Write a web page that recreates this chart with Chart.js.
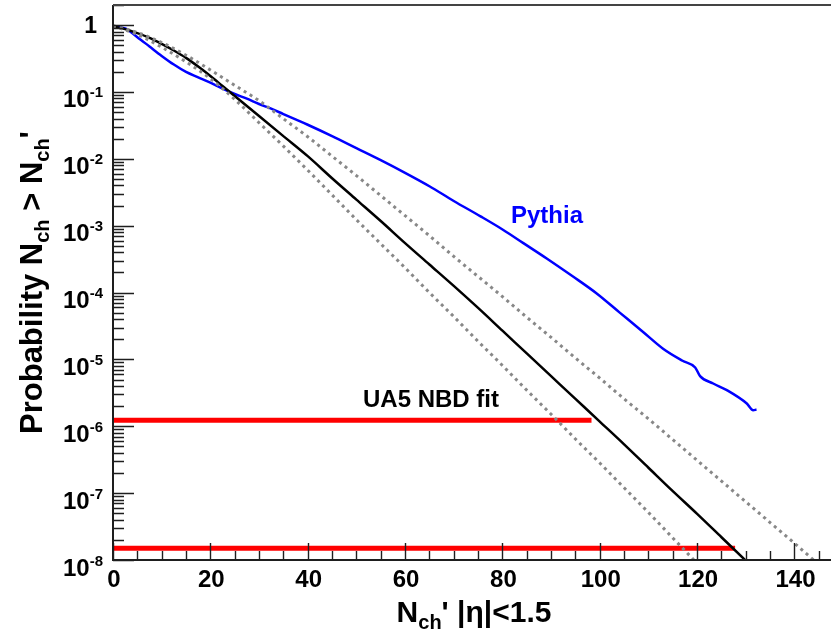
<!DOCTYPE html>
<html>
<head>
<meta charset="utf-8">
<script src="https://cdn.jsdelivr.net/npm/chart.js@4"></script>
<style>
html,body{margin:0;padding:0;background:#ffffff;}
#wrap{width:831px;height:636px;position:relative;}
</style>
</head>
<body>
<div id="wrap"><canvas id="c" width="831" height="636"></canvas></div>
<script>
// ---------------- data ----------------
// x tick labels
const xTickValues = [0, 20, 40, 60, 80, 100, 120, 140];
const xTickLabels = ['0', '20', '40', '60', '80', '100', '120', '140'];
// y tick labels (log axis): base and exponent
const yTickValues = [1, 1e-1, 1e-2, 1e-3, 1e-4, 1e-5, 1e-6, 1e-7, 1e-8];
const yTickBase   = ['1', '10', '10', '10', '10', '10', '10', '10', '10'];
const yTickExp    = ['', '-1', '-2', '-3', '-4', '-5', '-6', '-7', '-8'];

// UA5 NBD fit (black) : N_ch' and log10(probability)
const ua5N    = [0, 2.5, 5, 7.5, 10, 12.5, 15, 17.5, 20, 22.5, 25, 30, 35, 40, 45, 50, 55, 60, 65, 70, 75, 80, 85, 90, 95, 100, 105, 110, 115, 120, 125, 130];
const ua5Log  = [-0.02, -0.06, -0.12, -0.19, -0.28, -0.38, -0.49, -0.62, -0.76, -0.91, -1.06, -1.36, -1.66, -1.96, -2.29, -2.61, -2.93, -3.26, -3.58, -3.90, -4.23, -4.57, -4.91, -5.25, -5.59, -5.93, -6.27, -6.62, -6.97, -7.31, -7.66, -8.01];

// UA5 band, upper (grey dotted)
const upperN   = [0, 5, 10, 15, 20, 25, 30, 35, 40, 45, 50, 55, 60, 65, 70, 75, 80, 85, 90, 95, 100, 105, 110, 115, 120, 125, 130, 135, 140, 145];
const upperLog = [-0.01, -0.11, -0.26, -0.45, -0.67, -0.90, -1.13, -1.40, -1.67, -1.96, -2.25, -2.55, -2.85, -3.15, -3.46, -3.76, -4.06, -4.37, -4.67, -4.98, -5.28, -5.59, -5.89, -6.20, -6.51, -6.82, -7.13, -7.44, -7.75, -8.07];

// UA5 band, lower (grey dotted)
const lowerN   = [0, 5, 10, 15, 20, 25, 30, 35, 40, 45, 50, 55, 60, 65, 70, 75, 80, 85, 90, 95, 100, 105, 110, 115, 120];
const lowerLog = [-0.01, -0.14, -0.33, -0.55, -0.80, -1.11, -1.46, -1.81, -2.17, -2.54, -2.91, -3.27, -3.63, -4.00, -4.36, -4.73, -5.09, -5.46, -5.82, -6.19, -6.55, -6.92, -7.29, -7.67, -8.05];

// Pythia (blue)
const pythiaN   = [0, 2.5, 5, 7.5, 10, 12.5, 15, 17.5, 20, 22.5, 25, 27.5, 30, 32.5, 35, 37.5, 40, 45, 50, 55, 60, 65, 70, 75.5, 80.1, 84.3, 89.1, 94.5, 99.3, 104.1, 108.9, 113.0, 117.0, 119.6, 120.6, 123.3, 126.1, 130.2, 131.5, 132.2];
const pythiaLog = [-0.02, -0.05, -0.18, -0.32, -0.46, -0.59, -0.70, -0.78, -0.86, -0.95, -1.03, -1.10, -1.18, -1.25, -1.33, -1.41, -1.49, -1.66, -1.84, -2.02, -2.21, -2.41, -2.63, -2.86, -3.06, -3.26, -3.49, -3.76, -4.01, -4.30, -4.59, -4.84, -5.02, -5.12, -5.25, -5.36, -5.46, -5.66, -5.76, -5.75];

// red horizontal limits
const redUpperN = [0, 98.3];
const redUpperP = [1.23e-6, 1.23e-6];
const redLowerN = [0, 127.8];
const redLowerP = [1.5e-8, 1.5e-8];

// text labels
const pythiaLabel = 'Pythia';
const ua5Label = 'UA5 NBD fit';

// axis ranges
const xMin = 0, xMax = 147.5;
const yMin = 1e-8, yMax = 2;

// ---------------- build ----------------
const fromLog = (xs, ls) => xs.map((x, i) => ({ x: x, y: Math.pow(10, ls[i]) }));
const fromLin = (xs, ps) => xs.map((x, i) => ({ x: x, y: ps[i] }));

const FONT = '"Liberation Sans", Arial, Helvetica, sans-serif';

function drawRich(ctx, parts, x, y) {
  let cx = x;
  for (const p of parts) {
    ctx.font = 'bold ' + p.size + 'px ' + FONT;
    ctx.fillText(p.t, cx, y + (p.dy || 0));
    cx += ctx.measureText(p.t).width;
  }
}
function richWidth(ctx, parts) {
  let w = 0;
  for (const p of parts) {
    ctx.font = 'bold ' + p.size + 'px ' + FONT;
    w += ctx.measureText(p.t).width;
  }
  return w;
}

const rootFrame = {
  id: 'rootFrame',
  afterDatasetsDraw(chart) {
    const { ctx, chartArea: a, scales } = chart;
    const xs = scales.x, ys = scales.y;
    ctx.save();

    // tick marks (inside the frame)
    ctx.strokeStyle = '#1e1e1e';
    ctx.lineWidth = 1.4;
    ctx.beginPath();
    for (let k = 0; k * 5 <= xMax; k++) {
      const v = k * 5;
      const px = Math.round(xs.getPixelForValue(v)) + 0.5;
      const len = (v % 20 === 0) ? 17 : 9;
      ctx.moveTo(px, a.bottom);
      ctx.lineTo(px, a.bottom - len);
    }
    for (let e = -8; e <= 0; e++) {
      for (let m = 1; m <= 9; m++) {
        const v = m * Math.pow(10, e);
        if (v > yMax * 1.0001) break;
        const py = Math.round(ys.getPixelForValue(v)) + 0.5;
        const len = (m === 1) ? 21 : 11;
        ctx.moveTo(a.left, py);
        ctx.lineTo(a.left + len, py);
      }
    }
    ctx.stroke();

    // frame lines
    ctx.lineWidth = 2;
    ctx.strokeStyle = '#1e1e1e';
    ctx.beginPath();
    ctx.moveTo(a.left, a.top);
    ctx.lineTo(a.left, a.bottom);
    ctx.lineTo(a.right, a.bottom);
    ctx.stroke();
    ctx.strokeStyle = '#444';
    ctx.beginPath();
    ctx.moveTo(a.left, a.top);
    ctx.lineTo(a.right, a.top);
    ctx.stroke();

    ctx.fillStyle = '#000';
    ctx.textBaseline = 'alphabetic';

    // x tick labels
    ctx.textAlign = 'center';
    ctx.font = 'bold 24px ' + FONT;
    xTickValues.forEach((v, i) => {
      ctx.fillText(xTickLabels[i], xs.getPixelForValue(v) + 1, 587);
    });

    // y tick labels
    yTickValues.forEach((v, i) => {
      const py = ys.getPixelForValue(v);
      ctx.textAlign = 'right';
      if (yTickExp[i] === '') {
        ctx.font = 'bold 23px ' + FONT;
        ctx.fillText(yTickBase[i], 97, py + 8);
      } else {
        ctx.font = 'bold 15px ' + FONT;
        const sw = ctx.measureText(yTickExp[i]).width;
        ctx.fillText(yTickExp[i], 103, py + 5.5);
        ctx.font = 'bold 24px ' + FONT;
        ctx.fillText(yTickBase[i], 103 - sw, py + 15.5);
      }
    });

    // axis titles
    ctx.textAlign = 'left';
    const xTitle = [
      { t: 'N', size: 30 }, { t: 'ch', size: 20, dy: 7 }, { t: '\' |\u03b7|<1.5', size: 30 }
    ];
    const xw = richWidth(ctx, xTitle);
    drawRich(ctx, xTitle, (a.left + a.right) / 2 - xw / 2 + 2, 622);

    const yTitle = [
      { t: 'Probability N', size: 31 }, { t: 'ch', size: 20, dy: 7 },
      { t: ' > N', size: 31 }, { t: 'ch', size: 20, dy: 7 }, { t: '\'', size: 31 }
    ];
    const yw = richWidth(ctx, yTitle);
    ctx.save();
    ctx.translate(41.5, (a.top + a.bottom) / 2 + yw / 2);
    ctx.rotate(-Math.PI / 2);
    drawRich(ctx, yTitle, 0, 0);
    ctx.restore();

    // in-plot labels
    ctx.textAlign = 'left';
    ctx.font = 'bold 24px ' + FONT;
    ctx.fillStyle = '#0000ff';
    ctx.fillText(pythiaLabel, 511, 223);
    ctx.fillStyle = '#000';
    ctx.fillText(ua5Label, 363, 407);

    ctx.restore();
  }
};

const curve = { pointRadius: 0, fill: false, cubicInterpolationMode: 'monotone' };

const chart = new Chart(document.getElementById('c').getContext('2d'), {
  type: 'line',
  data: {
    datasets: [
      Object.assign({ label: 'UA5 upper', data: fromLog(upperN, upperLog), borderColor: '#888888', borderWidth: 3, borderDash: [3, 4] }, curve),
      Object.assign({ label: 'UA5 lower', data: fromLog(lowerN, lowerLog), borderColor: '#888888', borderWidth: 3, borderDash: [3, 4] }, curve),
      Object.assign({ label: 'UA5 NBD fit', data: fromLog(ua5N, ua5Log), borderColor: '#000000', borderWidth: 2.5 }, curve),
      Object.assign({ label: 'Pythia', data: fromLog(pythiaN, pythiaLog), borderColor: '#0000ff', borderWidth: 2.5 }, curve),
      { label: 'limit 1', data: fromLin(redUpperN, redUpperP), borderColor: '#ff0000', borderWidth: 5, borderCapStyle: 'butt', pointRadius: 0, fill: false },
      { label: 'limit 2', data: fromLin(redLowerN, redLowerP), borderColor: '#ff0000', borderWidth: 5, borderCapStyle: 'butt', pointRadius: 0, fill: false }
    ]
  },
  options: {
    responsive: false,
    animation: false,
    devicePixelRatio: 1,
    layout: { padding: { left: 113, right: 0, top: 5, bottom: 76 } },
    plugins: { legend: { display: false }, tooltip: { enabled: false } },
    elements: { line: { tension: 0 }, point: { radius: 0 } },
    scales: {
      x: { type: 'linear', min: xMin, max: xMax, display: false },
      y: { type: 'logarithmic', min: yMin, max: yMax, display: false }
    }
  },
  plugins: [rootFrame]
});
</script>
</body>
</html>
